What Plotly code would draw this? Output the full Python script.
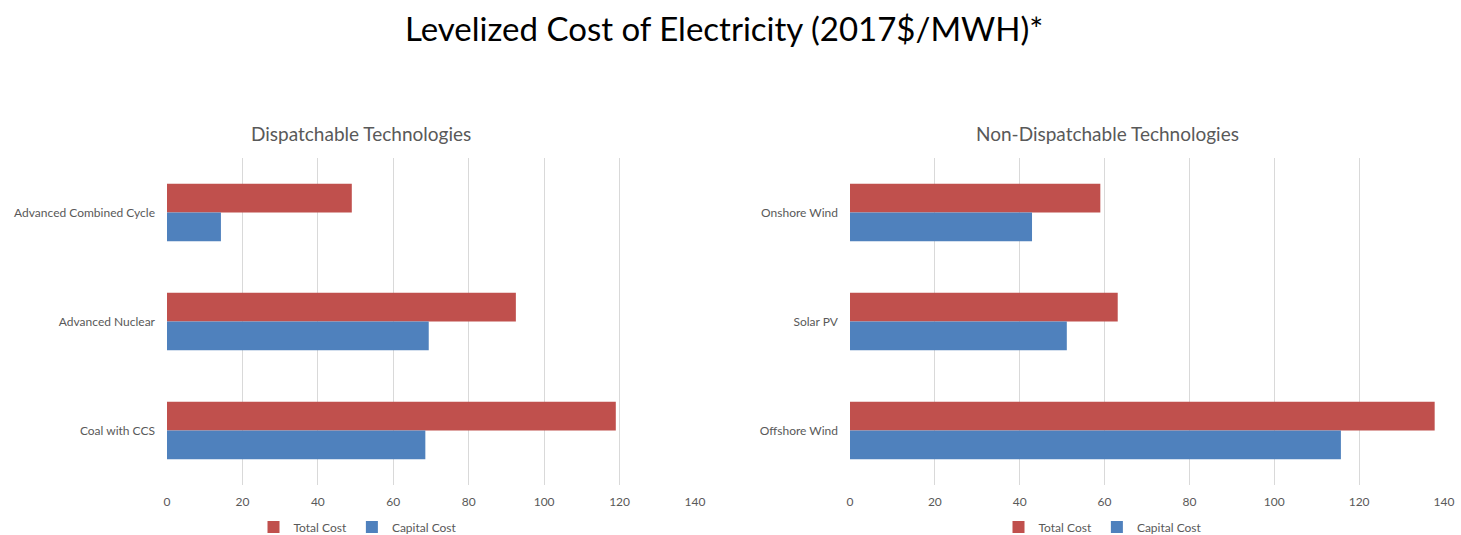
import plotly.graph_objects as go

disp_categories = ["Advanced Combined Cycle", "Advanced Nuclear", "Coal with CCS"]
disp_total = [49, 92.5, 119]
disp_capital = [14.3, 69.4, 68.5]

nondisp_categories = ["Onshore Wind", "Solar PV", "Offshore Wind"]
nondisp_total = [59, 63.1, 137.8]
nondisp_capital = [42.9, 51.1, 115.7]

tick_vals = [0, 20, 40, 60, 80, 100, 120, 140]

RED = "#C0504D"
BLUE = "#4F81BD"
GRAY = "#595959"
FONT = "Lato"

fig = go.Figure()

fig.add_trace(go.Bar(y=disp_categories, x=disp_total, orientation="h", name="Total Cost",
                     marker=dict(color=RED), xaxis="x", yaxis="y", legend="legend"))
fig.add_trace(go.Bar(y=disp_categories, x=disp_capital, orientation="h", name="Capital Cost",
                     marker=dict(color=BLUE), xaxis="x", yaxis="y", legend="legend"))
fig.add_trace(go.Bar(y=nondisp_categories, x=nondisp_total, orientation="h", name="Total Cost",
                     marker=dict(color=RED), xaxis="x2", yaxis="y2", legend="legend2"))
fig.add_trace(go.Bar(y=nondisp_categories, x=nondisp_capital, orientation="h", name="Capital Cost",
                     marker=dict(color=BLUE), xaxis="x2", yaxis="y2", legend="legend2"))

W, H = 1461, 535
ydom = [(535 - 485) / H, (535 - 158) / H]

xcommon = dict(range=[0, 140], tickvals=tick_vals, showgrid=True, gridcolor="#D9D9D9",
               gridwidth=1, zeroline=False, showline=False, ticks="", automargin=False,
               ticklabelstandoff=8,
               tickfont=dict(family=FONT, size=12, color=GRAY), fixedrange=True)
ycommon = dict(autorange="reversed", showgrid=False, zeroline=False, showline=False, ticks="",
               automargin=False, ticklabelstandoff=11, fixedrange=True,
               tickfont=dict(family=FONT, size=12, color=GRAY))

legend_common = dict(orientation="h", y=(535 - 527) / H, yanchor="middle", xanchor="center",
                     font=dict(family=FONT, size=12, color=GRAY), bgcolor="rgba(0,0,0,0)",
                     itemwidth=30, traceorder="normal")

fig.update_layout(
    width=W, height=H,
    margin=dict(l=0, r=0, t=0, b=0, autoexpand=False),
    template="none",
    paper_bgcolor="white", plot_bgcolor="white",
    barmode="group", bargap=0.474, bargroupgap=0,
    font=dict(family=FONT, color=GRAY),
    xaxis=dict(domain=[167 / W, 695 / W], anchor="y", **xcommon),
    yaxis=dict(domain=ydom, anchor="x", **ycommon),
    xaxis2=dict(domain=[850 / W, 1444 / W], anchor="y2", **xcommon),
    yaxis2=dict(domain=ydom, anchor="x2", **ycommon),
    legend=dict(x=358 / W, **legend_common),
    legend2=dict(x=1103 / W, **legend_common),
    showlegend=True,
    annotations=[
        dict(text="Levelized Cost of Electricity (2017$/MWH)*", x=724 / W, y=(535 - 28) / H,
             xref="paper", yref="paper", xanchor="center", yanchor="middle", showarrow=False,
             font=dict(family=FONT, size=33, color="black")),
        dict(text="Dispatchable Technologies", x=361 / W, y=(535 - 133) / H,
             xref="paper", yref="paper", xanchor="center", yanchor="middle", showarrow=False,
             font=dict(family=FONT, size=19, color=GRAY)),
        dict(text="Non-Dispatchable Technologies", x=1107 / W, y=(535 - 133) / H,
             xref="paper", yref="paper", xanchor="center", yanchor="middle", showarrow=False,
             font=dict(family=FONT, size=19, color=GRAY)),
    ],
)

fig.write_html("out.html", config={"displayModeBar": False},
               post_script="document.body.style.margin='0';document.body.style.overflow='hidden';")
